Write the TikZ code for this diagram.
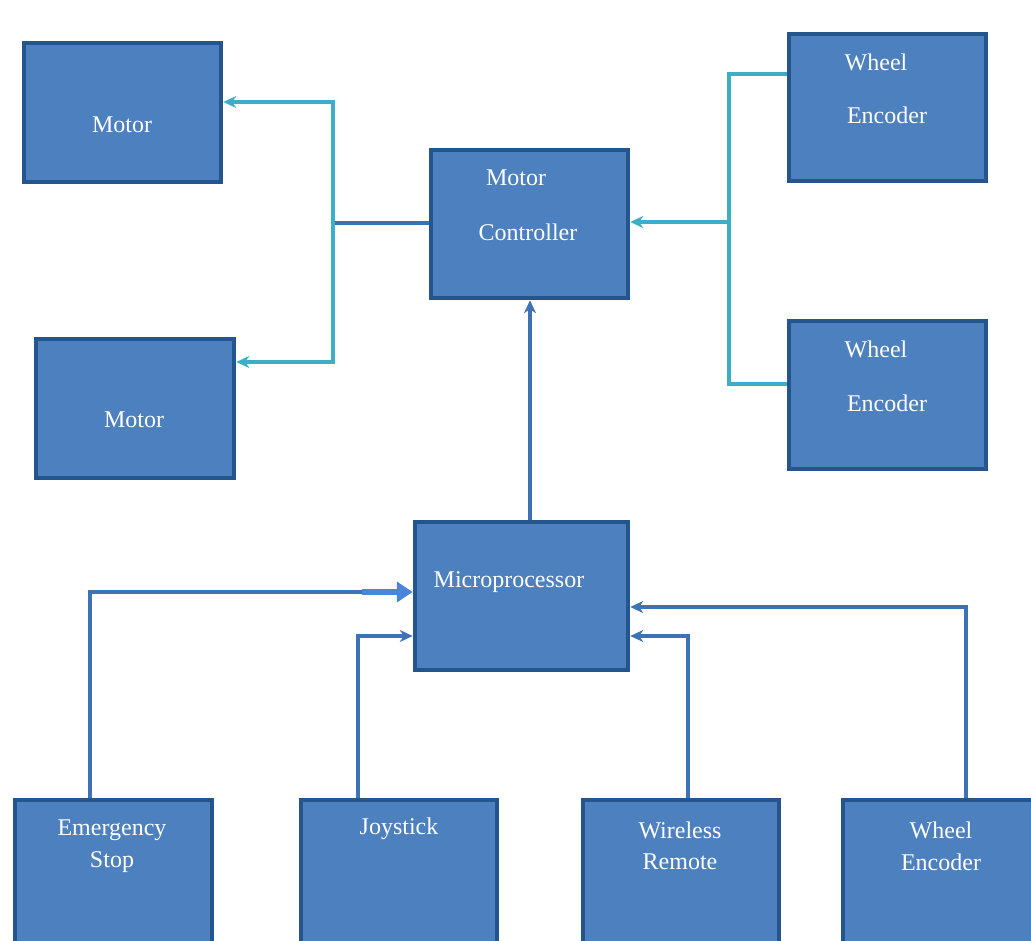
\documentclass[tikz,border=0pt]{standalone}
\usepackage{fontspec}
\setmainfont{Liberation Serif}
\usetikzlibrary{arrows.meta}
\definecolor{boxfill}{HTML}{4D80BE}
\definecolor{boxline}{HTML}{24558C}
\definecolor{tealc}{HTML}{3DAEC8}
\definecolor{bluec}{HTML}{3C72B6}
\definecolor{brightc}{HTML}{4A86D8}
\tikzset{
  box/.style={rectangle, fill=boxfill, draw=boxline, line width=4.5pt, inner sep=0pt},
  lbl/.style={text=white, font=\fontsize{24}{27}\selectfont, inner sep=0pt},
  tline/.style={draw=tealc, line width=3.2pt},
  bline/.style={draw=bluec, line width=3.2pt},
  tarrow/.style={tline, -{Stealth[length=13pt,width=12pt]}},
  barrow/.style={bline, -{Stealth[length=13pt,width=12pt]}},
}
\begin{document}
\begin{tikzpicture}[x=1pt,y=1pt]
\useasboundingbox (0,0) rectangle (1031,-941);
\clip (0,0) rectangle (1031,-941);
\fill[white] (0,0) rectangle (1031,-941);
% boxes
\node[box, minimum width=197pt, minimum height=139pt] (m1) at (122.5,-112.5) {};
\node[box, minimum width=198pt, minimum height=139pt] (m2) at (135,-408.5) {};
\node[box, minimum width=197pt, minimum height=148pt] (mc) at (529.5,-224) {};
\node[box, minimum width=197pt, minimum height=147pt] (we1) at (887.5,-107.5) {};
\node[box, minimum width=197pt, minimum height=148pt] (we2) at (887.5,-395) {};
\node[box, minimum width=213pt, minimum height=148pt] (mp) at (521.5,-596) {};
\node[box, minimum width=197pt, minimum height=145pt] (es) at (113.5,-872.5) {};
\node[box, minimum width=196pt, minimum height=145pt] (js) at (399,-872.5) {};
\node[box, minimum width=196pt, minimum height=145pt] (wr) at (681,-872.5) {};
\node[box, minimum width=197pt, minimum height=145pt] (we3) at (941.5,-872.5) {};
% labels
\node[lbl] (t1) at (122,-125) {Motor};
\node[lbl] (t2) at (134,-420) {Motor};
\node[lbl] (t3) at (516,-178) {Motor};
\node[lbl] (t4) at (528,-232) {Controller};
\node[lbl] (t5) at (876,-62) {Wheel};
\node[lbl] (t6) at (887,-115) {Encoder};
\node[lbl] (t7) at (876,-349) {Wheel};
\node[lbl] (t8) at (887,-403) {Encoder};
\node[lbl] (t9) at (509,-582) {Microprocessor};
\node[lbl] (t10) at (112,-830) {Emergency};
\node[lbl] (t11) at (112,-862) {Stop};
\node[lbl] (t12) at (399,-829) {Joystick};
\node[lbl] (t13) at (680,-830) {Wireless};
\node[lbl] (t14) at (680,-862) {Remote};
\node[lbl] (t15) at (941,-830) {Wheel};
\node[lbl] (t16) at (941,-862) {Encoder};
% junction coordinates
\coordinate (jl) at (333,-223);
\coordinate (jlt) at (333,-102);
\coordinate (jlb) at (333,-362);
\coordinate (jr) at (729,-222);
\coordinate (jrt) at (729,-74);
\coordinate (jrb) at (729,-384);
\coordinate (ces) at (90,-592);
\coordinate (ces2) at (362,-592);
\coordinate (cjs) at (358,-636);
\coordinate (cwr) at (688,-636);
\coordinate (cwe) at (966,-607);
% motor controller to motors
\draw[bline] (mc.west |- jl) -- (jl);
\draw[tline, line cap=rect] (jlt) -- (jlb);
\draw[tarrow] (jlt) -- (m1.east |- jlt);
\draw[tarrow] (jlb) -- (m2.east |- jlb);
% wheel encoders to motor controller
\draw[tline] (we1.west |- jrt) -- (jrt) -- (jrb) -- (we2.west |- jrb);
\draw[tarrow] (jr) -- (mc.east |- jr);
% microprocessor to motor controller
\draw[barrow] (mp.north -| 530,0) -- (mc.south -| 530,0);
% inputs to microprocessor
\draw[bline] (es.north -| ces) -- (ces) -- (ces2);
\draw[draw=brightc, line width=5.5pt, -{Triangle[length=16pt,width=20pt]}] (ces2) -- (mp.west |- ces2);
\draw[barrow] (js.north -| cjs) -- (cjs) -- (mp.west |- cjs);
\draw[barrow] (wr.north -| cwr) -- (cwr) -- (mp.east |- cwr);
\draw[barrow] (we3.north -| cwe) -- (cwe) -- (mp.east |- cwe);
\end{tikzpicture}
\end{document}
